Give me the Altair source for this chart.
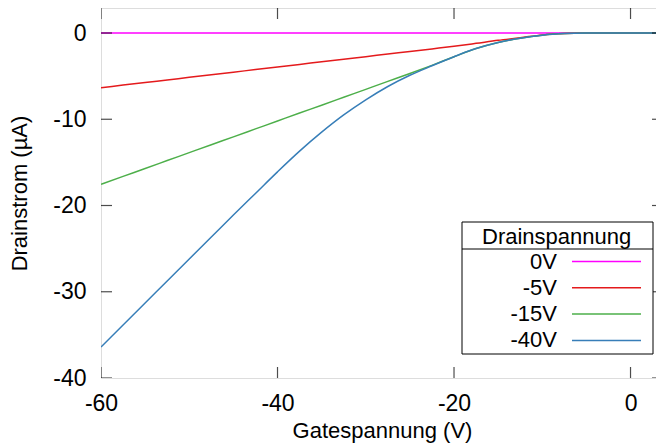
import altair as alt
import pandas as pd

# ---- data ----
gate_v = [-60, -57.5, -55, -52.5, -50, -47.5, -45, -42.5, -40, -37.5, -35, -32.5,
          -30, -27.5, -25, -22.5, -20, -17.5, -15, -12.5, -10, -7.5, -5, -2.5, 0, 2.5, 4]

series_names = ["0V", "-5V", "-15V", "-40V"]
series_colors = ["#ff00ff", "#e41a1c", "#4daf4a", "#377eb8"]

i_0v = [0, 0, 0, 0, 0, 0, 0, 0, 0, 0, 0, 0, 0, 0, 0, 0, 0, 0, 0, 0, 0, 0, 0, 0, 0, 0, 0]
i_5v = [-6.34, -6.04, -5.74, -5.44, -5.14, -4.84, -4.54, -4.24, -3.94, -3.64, -3.34, -3.04,
        -2.74, -2.44, -2.14, -1.84, -1.54, -1.2, -0.85, -0.55, -0.22, -0.06, -0.01, 0, 0, 0, 0]
i_15v = [-17.54, -16.62, -15.71, -14.79, -13.87, -12.95, -12.04, -11.12, -10.2, -9.28, -8.37, -7.45,
         -6.53, -5.61, -4.7, -3.75, -2.75, -1.8, -1.1, -0.6, -0.25, -0.07, -0.01, 0, 0, 0, 0]
i_40v = [-36.4, -33.85, -31.3, -28.75, -26.2, -23.65, -21.1, -18.6, -16.1, -13.7, -11.5, -9.5,
         -7.75, -6.2, -4.9, -3.8, -2.75, -1.8, -1.1, -0.6, -0.25, -0.07, -0.01, 0, 0, 0, 0]

x_ticks = [-60, -40, -20, 0]
y_ticks = [-40, -30, -20, -10, 0]
x_domain = [-60, 3.68]
y_domain = [-40, 2.9]

FONT = "Liberation Sans"

rows = []
for name, vals in zip(series_names, [i_0v, i_5v, i_15v, i_40v]):
    for xv, yv in zip(gate_v, vals):
        rows.append({"x": xv, "y": yv, "Drainspannung": name})
df = pd.DataFrame(rows)

x_axis = alt.Axis(values=x_ticks, ticks=False, domain=False, grid=False,
                  labelExpr="'' + datum.value",
                  labelFontSize=23, labelFont=FONT, labelColor="black", labelPadding=14,
                  labelFlush=False, labelOverlap=False,
                  title="Gatespannung (V)", titleFontSize=22, titleFont=FONT,
                  titleFontWeight="normal", titleColor="black", titlePadding=5)
y_axis = alt.Axis(values=y_ticks, ticks=False, domain=False, grid=False,
                  labelExpr="'' + datum.value",
                  labelFontSize=23, labelFont=FONT, labelColor="black", labelPadding=15,
                  labelFlush=False, labelOverlap=False,
                  title="Drainstrom (µA)", titleFontSize=22, titleFont=FONT,
                  titleFontWeight="normal", titleColor="black", titlePadding=21)

x_enc = alt.X("x:Q", scale=alt.Scale(domain=x_domain, nice=False, zero=False), axis=x_axis)
y_enc = alt.Y("y:Q", scale=alt.Scale(domain=y_domain, nice=False, zero=False), axis=y_axis)

lines = alt.Chart(df).mark_line(strokeWidth=1.5, clip=True, interpolate="monotone").encode(
    x=x_enc,
    y=y_enc,
    color=alt.Color("Drainspannung:N",
                    scale=alt.Scale(domain=series_names, range=series_colors),
                    sort=series_names,
                    legend=alt.Legend(orient="none", legendX=381, legendY=219,
                                      title="Drainspannung", titleFontSize=22, titleFont=FONT,
                                      titleFontWeight="normal", titleColor="black",
                                      titleAnchor="start", titlePadding=0,
                                      labelFontSize=22, labelFont=FONT, labelColor="black",
                                      labelAlign="right", labelOffset=alt.ExprRef(expr="-62"),
                                      symbolOffset=112, symbolType="M-3,0L3,0",
                                      symbolSize=529, symbolStrokeWidth=1.5,
                                      rowPadding=2.3, padding=0)),
    order=alt.Order("ord:Q"),
).transform_calculate(ord="indexof(['0V','-5V','-15V','-40V'], datum.Drainspannung)")

tick_bottom = pd.DataFrame({"x": x_ticks, "y": [y_domain[0]] * len(x_ticks)})
tick_top = pd.DataFrame({"x": x_ticks, "y": [y_domain[1]] * len(x_ticks)})
tick_left = pd.DataFrame({"x": [x_domain[0]] * len(y_ticks), "y": y_ticks})
tick_right = pd.DataFrame({"x": [x_domain[1]] * len(y_ticks), "y": y_ticks})

vticks = alt.Chart(pd.concat([tick_bottom, tick_top])).mark_tick(
    orient="vertical", size=22, thickness=1.2, color="black", clip=True
).encode(x=x_enc, y=y_enc)
hticks = alt.Chart(pd.concat([tick_left, tick_right])).mark_tick(
    orient="horizontal", size=22, thickness=1.2, color="black", clip=True
).encode(x=x_enc, y=y_enc)

legend_box = alt.Chart(alt.Data(values=[{}])).mark_rect(
    fill="white", stroke="black", strokeWidth=1
).encode(x=alt.value(361), x2=alt.value(552), y=alt.value(214), y2=alt.value(346))
legend_sep = alt.Chart(alt.Data(values=[{}])).mark_rule(
    color="black", strokeWidth=1
).encode(x=alt.value(361), x2=alt.value(552), y=alt.value(241))

chart = alt.layer(lines, vticks, hticks, legend_box, legend_sep).properties(
    width=562, height=370,
    autosize=alt.AutoSizeParams(type="none"),
    padding={"left": 93, "top": 0, "right": -7, "bottom": 68},
).configure_view(stroke="black", strokeWidth=1.5).configure(font=FONT)

chart.save("out.html", embed_options={"renderer": "svg", "actions": False})
